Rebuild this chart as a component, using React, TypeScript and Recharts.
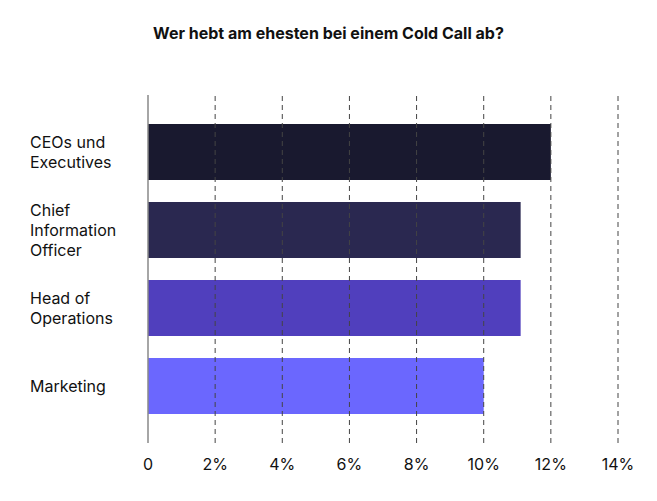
import React from "react";
import { BarChart, Bar, XAxis, YAxis, Cell, ReferenceLine } from "recharts";

const categories = [
  "CEOs und Executives",
  "Chief Information Officer",
  "Head of Operations",
  "Marketing",
];
const categoryLines = [
  ["CEOs und", "Executives"],
  ["Chief", "Information", "Officer"],
  ["Head of", "Operations"],
  ["Marketing"],
];
const shares = [12, 11.1, 11.1, 10];
const xTicks = [0, 2, 4, 6, 8, 10, 12, 14];

const barColors = ["#19192f", "#2a2850", "#503fbd", "#6b67fe"];
const font = "Inter, 'Noto Sans', sans-serif";

const data = categories.map((name, i) => ({ name, value: shares[i] }));

const CategoryTick = (props: any) => {
  const { y, payload } = props;
  const lines = categoryLines[categories.indexOf(payload.value)] || [payload.value];
  const lh = 20;
  const start = -((lines.length - 1) * lh) / 2;
  return (
    <text x={22} y={y} textAnchor="start" fill="#111" fontSize={16} fontFamily={font}>
      {lines.map((l, i) => (
        <tspan key={i} x={22} y={y + start + i * lh} dy="0.35em">
          {l}
        </tspan>
      ))}
    </text>
  );
};

export default function App() {
  return (
    <div style={{ position: "relative", width: 641, height: 485 }}>
      <div
        style={{
          position: "absolute",
          top: 15,
          left: 0,
          width: 641,
          textAlign: "center",
          fontFamily: font,
          fontWeight: 700,
          fontSize: 16,
          color: "#111",
        }}
      >
        Wer hebt am ehesten bei einem Cold Call ab?
      </div>
      <BarChart
        width={641}
        height={485}
        data={data}
        layout="vertical"
        margin={{ top: 87, right: 31, bottom: 20, left: 0 }}
        barCategoryGap="14%"
      >
        <XAxis
          type="number"
          domain={[0, 14]}
          ticks={xTicks}
          axisLine={false}
          tickLine={false}
          tickMargin={10}
          height={30}
          tickFormatter={(v: number) => (v === 0 ? "0" : `${v}%`)}
          tick={{ fill: "#111", fontSize: 16, fontFamily: font }}
        />
        <YAxis
          type="category"
          dataKey="name"
          width={140}
          padding={{ top: 18, bottom: 18 }}
          axisLine={{ stroke: "#888", strokeWidth: 1.5 }}
          tickLine={false}
          tick={<CategoryTick />}
        />
        <Bar dataKey="value" isAnimationActive={false}>
          {data.map((d, i) => (
            <Cell key={d.name} fill={barColors[i]} />
          ))}
        </Bar>
        {xTicks.slice(1).map((t) => (
          <ReferenceLine key={t} x={t} stroke="#444" strokeDasharray="5 4" strokeWidth={1} />
        ))}
      </BarChart>
    </div>
  );
}
